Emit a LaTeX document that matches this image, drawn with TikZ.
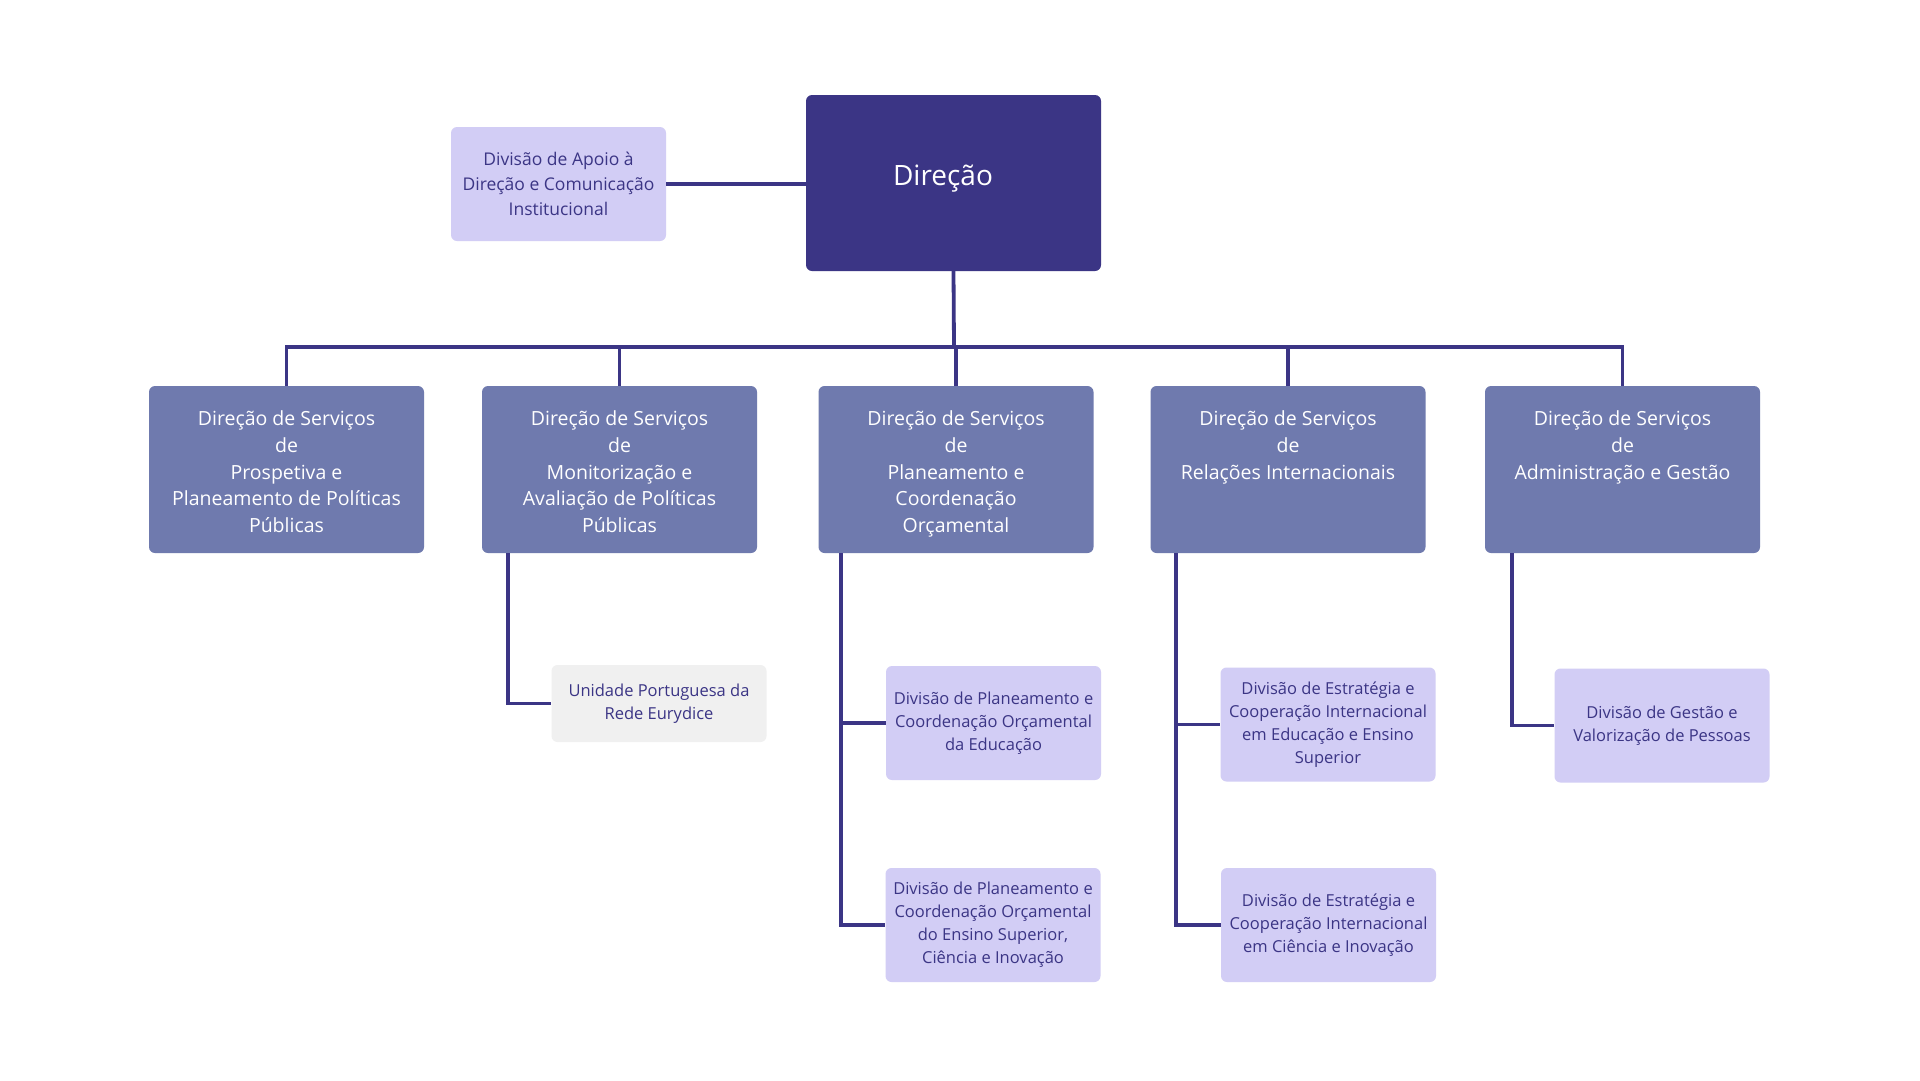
\documentclass[tikz,border=0pt]{standalone}
\usepackage{fontspec}
\setmainfont{Open Sans}
\usetikzlibrary{calc}
\definecolor{darkp}{HTML}{3B3585}
\definecolor{midp}{HTML}{6F7AAE}
\definecolor{lightp}{HTML}{D2CDF5}
\definecolor{greyb}{HTML}{F0F0F0}
\begin{document}
\begin{tikzpicture}[x=1pt,y=-1pt,
  box/.style={rounded corners=6pt, inner sep=0pt, draw=none},
  topbox/.style={box, fill=darkp, minimum width=295pt, minimum height=176pt},
  lvltwo/.style={box, fill=midp, minimum width=275pt, minimum height=167pt},
  lvltext/.style={text=white, align=center, anchor=north, inner sep=0pt, font=\fontsize{19.5}{26.7}\selectfont},
  divbox/.style={box, fill=lightp, minimum width=215pt, minimum height=114pt, text=darkp, align=center, font=\fontsize{16.5}{23}\selectfont},
  greybox/.style={divbox, fill=greyb, minimum height=77pt},
  conn/.style={draw=darkp, line width=3.8pt}
]
\fill[white] (0,0) rectangle (1920,1080);
\useasboundingbox (0,0) rectangle (1920,1080);

% top level
\node[topbox] (dir) at (953.5,183) {};
\node[text=white, inner sep=0pt, font=\fontsize{28}{32}\selectfont] (dirt) at (943,179) {Direção};
\node[divbox, font=\fontsize{17.5}{25}\selectfont] (apoio) at (558.5,184) {Divisão de Apoio à\\Direção e Comunicação\\Institucional};

% level 2
\node[lvltwo] (b1) at (286.5,469.5) {};
\node[lvltwo] (b2) at (619.5,469.5) {};
\node[lvltwo] (b3) at (956,469.5) {};
\node[lvltwo] (b4) at (1288,469.5) {};
\node[lvltwo] (b5) at (1622.5,469.5) {};
\node[lvltext] (t1) at ($(b1.north)+(0,25)$) {Direção de Serviços\\de\\Prospetiva e\\Planeamento de Políticas\\Públicas};
\node[lvltext] (t2) at ($(b2.north)+(0,25)$) {Direção de Serviços\\de\\Monitorização e\\Avaliação de Políticas\\Públicas};
\node[lvltext] (t3) at ($(b3.north)+(0,25)$) {Direção de Serviços\\de\\Planeamento e\\Coordenação\\Orçamental};
\node[lvltext] (t4) at ($(b4.north)+(0,25)$) {Direção de Serviços\\de\\Relações Internacionais};
\node[lvltext] (t5) at ($(b5.north)+(0,25)$) {Direção de Serviços\\de\\Administração e Gestão};

% level 3
\node[greybox] (eury) at (659,703.5) {Unidade Portuguesa da\\Rede Eurydice};
\node[divbox] (pe) at (993.5,723) {Divisão de Planeamento e\\Coordenação Orçamental\\da Educação};
\node[divbox] (ps) at (993,925) {Divisão de Planeamento e\\Coordenação Orçamental\\do Ensino Superior,\\Ciência e Inovação};
\node[divbox] (ee) at (1328,724.5) {Divisão de Estratégia e\\Cooperação Internacional\\em Educação e Ensino\\Superior};
\node[divbox] (ec) at (1328.5,925) {Divisão de Estratégia e\\Cooperação Internacional\\em Ciência e Inovação};
\node[divbox] (gv) at (1662,725.5) {Divisão de Gestão e\\Valorização de Pessoas};

% connectors
\draw[conn] (apoio.east) -- (dir.west |- apoio.east);
\coordinate (bus) at (954,347);
\draw[conn] (dir.south) -- (bus);
\draw[conn] (b1.north) |- (bus) -| (b5.north);
\draw[conn] (b2.north) -- (b2.north |- bus);
\draw[conn] (b3.north) -- (b3.north |- bus);
\draw[conn] (b4.north) -- (b4.north |- bus);

\coordinate (s2) at ($(b2.south west)+(26,0)$);
\coordinate (s3) at ($(b3.south west)+(23,0)$);
\coordinate (s4) at ($(b4.south west)+(26,0)$);
\coordinate (s5) at ($(b5.south west)+(27,0)$);
\draw[conn] (s2) |- (eury.west);
\draw[conn] (s3) |- (ps.west);
\draw[conn] (s3 |- pe.west) -- (pe.west);
\draw[conn] (s4) |- (ec.west);
\draw[conn] (s4 |- ee.west) -- (ee.west);
\draw[conn] (s5) |- (gv.west);
\end{tikzpicture}
\end{document}
